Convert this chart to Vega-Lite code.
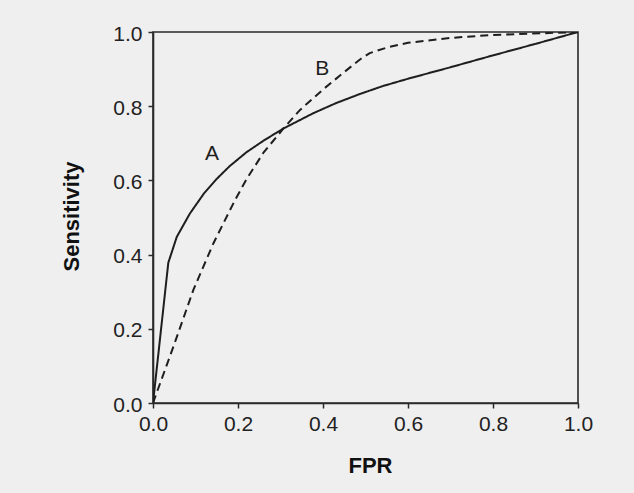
{
  "$schema": "https://vega.github.io/schema/vega-lite/v6.json",
  "autosize": {"type": "none"},
  "width": 425,
  "height": 371,
  "padding": {"left": 153, "top": 32, "right": 56, "bottom": 90},
  "background": "#efefef",
  "config": {
    "font": "Liberation Sans",
    "view": {"stroke": "#2a2a2a", "strokeWidth": 1.6, "fill": "#efefef"},
    "axis": {
      "grid": false,
      "domainColor": "#2a2a2a",
      "domainWidth": 1.6,
      "tickColor": "#2a2a2a",
      "tickWidth": 1.5,
      "tickSize": 5,
      "labelFontSize": 21,
      "labelColor": "#222222",
      "labelFont": "Liberation Sans",
      "titleFont": "Liberation Sans",
      "titleFontSize": 22,
      "titleFontWeight": "bold",
      "titleColor": "#111111"
    }
  },
  "datasets": {
    "curves": [
      {"curve": "A", "fpr": 0, "sens": 0},
      {"curve": "A", "fpr": 0.036, "sens": 0.378},
      {"curve": "A", "fpr": 0.056, "sens": 0.448},
      {"curve": "A", "fpr": 0.087, "sens": 0.511},
      {"curve": "A", "fpr": 0.12, "sens": 0.565},
      {"curve": "A", "fpr": 0.149, "sens": 0.603},
      {"curve": "A", "fpr": 0.18, "sens": 0.638},
      {"curve": "A", "fpr": 0.22, "sens": 0.676},
      {"curve": "A", "fpr": 0.26, "sens": 0.707},
      {"curve": "A", "fpr": 0.307, "sens": 0.74},
      {"curve": "A", "fpr": 0.377, "sens": 0.781},
      {"curve": "A", "fpr": 0.43, "sens": 0.808},
      {"curve": "A", "fpr": 0.487, "sens": 0.833},
      {"curve": "A", "fpr": 0.54, "sens": 0.854},
      {"curve": "A", "fpr": 0.6, "sens": 0.874},
      {"curve": "A", "fpr": 0.7, "sens": 0.905},
      {"curve": "A", "fpr": 0.8, "sens": 0.937},
      {"curve": "A", "fpr": 0.9, "sens": 0.968},
      {"curve": "A", "fpr": 1, "sens": 1},
      {"curve": "B", "fpr": 0, "sens": 0},
      {"curve": "B", "fpr": 0.048, "sens": 0.152},
      {"curve": "B", "fpr": 0.095, "sens": 0.305},
      {"curve": "B", "fpr": 0.142, "sens": 0.43},
      {"curve": "B", "fpr": 0.193, "sens": 0.547},
      {"curve": "B", "fpr": 0.22, "sens": 0.603},
      {"curve": "B", "fpr": 0.26, "sens": 0.675},
      {"curve": "B", "fpr": 0.307, "sens": 0.74},
      {"curve": "B", "fpr": 0.346, "sens": 0.79},
      {"curve": "B", "fpr": 0.401, "sens": 0.846},
      {"curve": "B", "fpr": 0.45, "sens": 0.892},
      {"curve": "B", "fpr": 0.487, "sens": 0.926},
      {"curve": "B", "fpr": 0.51, "sens": 0.943},
      {"curve": "B", "fpr": 0.55, "sens": 0.958},
      {"curve": "B", "fpr": 0.6, "sens": 0.971},
      {"curve": "B", "fpr": 0.7, "sens": 0.984},
      {"curve": "B", "fpr": 0.8, "sens": 0.992},
      {"curve": "B", "fpr": 1, "sens": 1}
    ],
    "labels": [
      {"label": "A", "fpr": 0.139, "sens": 0.671},
      {"label": "B", "fpr": 0.398, "sens": 0.901}
    ]
  },
  "layer": [
    {
      "data": {"name": "curves"},
      "mark": {"type": "line", "color": "#1e1e1e", "strokeWidth": 2, "clip": true},
      "encoding": {
        "x": {
          "field": "fpr", "type": "quantitative",
          "scale": {"domain": [0, 1], "nice": false},
          "axis": {
            "title": "FPR", "values": [0, 0.2, 0.4, 0.6, 0.8, 1], "format": ".1f",
            "labelPadding": 5, "titleX": 217, "titleY": 69, "titleBaseline": "alphabetic", "titleAlign": "center",
            "labelFlush": false
          }
        },
        "y": {
          "field": "sens", "type": "quantitative",
          "scale": {"domain": [0, 1], "nice": false},
          "axis": {
            "title": "Sensitivity", "values": [0, 0.2, 0.4, 0.6, 0.8, 1], "format": ".1f",
            "labelPadding": 6, "labelOffset": 2, "titleX": -75, "titleY": 184, "titleAngle": -90,
            "titleBaseline": "alphabetic", "titleAlign": "center", "labelFlush": false
          }
        },
        "detail": {"field": "curve"},
        "strokeDash": {
          "field": "curve", "type": "nominal",
          "scale": {"domain": ["A", "B"], "range": [[1, 0], [8, 5]]},
          "legend": null
        }
      }
    },
    {
      "data": {"name": "labels"},
      "mark": {"type": "text", "fontSize": 21, "color": "#1e1e1e", "align": "center", "baseline": "middle", "font": "Liberation Sans"},
      "encoding": {
        "x": {"field": "fpr", "type": "quantitative"},
        "y": {"field": "sens", "type": "quantitative"},
        "text": {"field": "label"}
      }
    }
  ]
}
